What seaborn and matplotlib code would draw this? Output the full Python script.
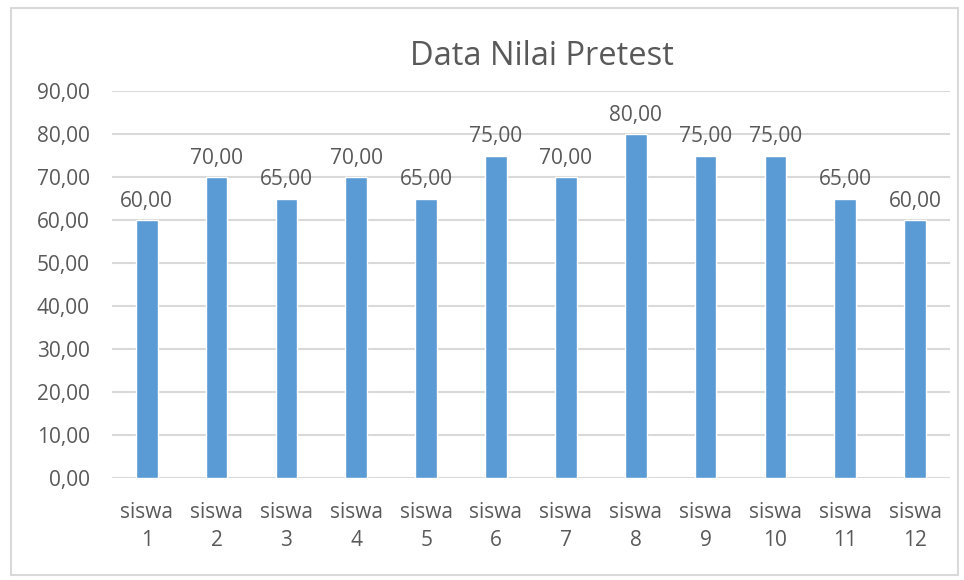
import matplotlib
matplotlib.use("Agg")
import matplotlib.pyplot as plt
import seaborn as sns
import pandas as pd
from matplotlib.patches import Rectangle

siswa = [f"siswa\n{i}" for i in range(1, 13)]
nilai = [60, 70, 65, 70, 65, 75, 70, 80, 75, 75, 65, 60]
yticks = [0, 10, 20, 30, 40, 50, 60, 70, 80, 90]

sns.set_theme(style="white")
plt.rcParams['font.family'] = ['Open Sans', 'DejaVu Sans']
txt = '#595959'
grid = '#D9D9D9'

df = pd.DataFrame({'siswa': siswa, 'nilai': nilai})

fig = plt.figure(figsize=(9.64, 5.8), dpi=100)
ax = fig.add_axes([0.116, 0.176, 0.8695, 0.667])
sns.barplot(data=df, x='siswa', y='nilai', color='#5B9BD5', width=0.31,
            saturation=1, ax=ax, zorder=3)

ax.set_ylim(0, 90)
ax.set_yticks(yticks)
ax.set_yticklabels([f"{v},00" for v in yticks], fontsize=15, color=txt)
ax.tick_params(axis='x', labelsize=15, colors=txt, length=0, pad=17)
ax.tick_params(axis='y', length=0, pad=16)
for lbl in ax.get_xticklabels():
    lbl.set_linespacing(1.45)
ax.yaxis.grid(True, color=grid, linewidth=1.5, zorder=0)
ax.set_axisbelow(True)
for s in ax.spines.values():
    s.set_visible(False)
ax.set_xlabel('')
ax.set_ylabel('')
ax.set_xlim(-0.5, len(siswa) - 0.5)

for i, v in enumerate(nilai):
    ax.annotate(f"{v},00", xy=(i, v), xytext=(0, 6), textcoords='offset points',
                ha='center', va='bottom', fontsize=15, color=txt)

fig.text(0.5617, 0.903, 'Data Nilai Pretest', ha='center', va='center',
         fontsize=23.5, color=txt)

fig.patches.append(Rectangle((11 / 964, 5 / 580), 947 / 964, 567 / 580,
                             transform=fig.transFigure, fill=False,
                             edgecolor=grid, linewidth=1.5))

fig.savefig('out.png', dpi=100)
